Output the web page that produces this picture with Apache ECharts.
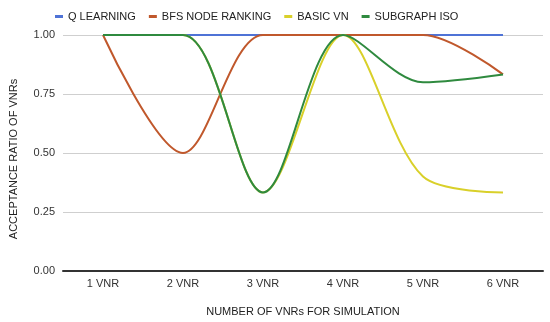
<!DOCTYPE html>
<html><head><meta charset="utf-8">
<script src="https://cdn.jsdelivr.net/npm/echarts@6/dist/echarts.min.js"></script>
<style>html,body{margin:0;padding:0;background:#fff}#c{width:550px;height:322px}</style>
</head><body><div id="c"></div>
<script>
const categories = ['1 VNR','2 VNR','3 VNR','4 VNR','5 VNR','6 VNR'];
const qLearning = [1, 1, 1, 1, 1, 1];
const bfsNodeRanking = [1, 0.5, 1, 1, 1, 0.833];
const basicVN = [1, 1, 0.333, 1, 0.4, 0.333];
const subgraphIso = [1, 1, 0.333, 1, 0.8, 0.833];
const seriesNames = ['Q LEARNING','BFS NODE RANKING','BASIC VN','SUBGRAPH ISO'];
const colors = ['#4f73d6','#c0582c','#d9d02a','#2f8a3f'];

const chart = echarts.init(document.getElementById('c'));
const font = 'Liberation Sans, Arial, sans-serif';
function mk(name, data, color, z){
  return {name, type:'line', data, smooth:0.32, symbol:'none', z,
    lineStyle:{width:2, color}, itemStyle:{color}};
}
chart.setOption({
  animation:false,
  textStyle:{fontFamily:font},
  legend:{top:6, left:50, itemWidth:8, itemHeight:3, icon:'rect', itemGap:13,
    textStyle:{fontSize:11, color:'#222', fontFamily:font},
    data:seriesNames},
  grid:{left:62, right:7, top:35, bottom:50},
  xAxis:{type:'category', data:categories, boundaryGap:true,
    axisLine:{lineStyle:{color:'#333', width:2}}, axisTick:{show:false},
    axisLabel:{fontSize:11, color:'#333', margin:7, fontFamily:font},
    name:'NUMBER OF VNRs FOR SIMULATION', nameLocation:'middle', nameGap:35,
    nameTextStyle:{fontSize:11, color:'#222', fontFamily:font}},
  yAxis:{type:'value', min:0, max:1, interval:0.25,
    axisLine:{show:false}, axisTick:{show:false},
    splitLine:{lineStyle:{color:'#cfcfcf'}},
    axisLabel:{fontSize:11, color:'#333', margin:8, formatter:v=>v.toFixed(2), fontFamily:font},
    name:'ACCEPTANCE RATIO OF VNRs', nameLocation:'middle', nameGap:44,
    nameTextStyle:{fontSize:11, color:'#222', fontFamily:font, padding:[0,0,0,-12]}},
  series:[
    mk(seriesNames[0], qLearning, colors[0], 2),
    mk(seriesNames[1], bfsNodeRanking, colors[1], 3),
    mk(seriesNames[2], basicVN, colors[2], 4),
    mk(seriesNames[3], subgraphIso, colors[3], 5)
  ]
});
</script></body></html>
